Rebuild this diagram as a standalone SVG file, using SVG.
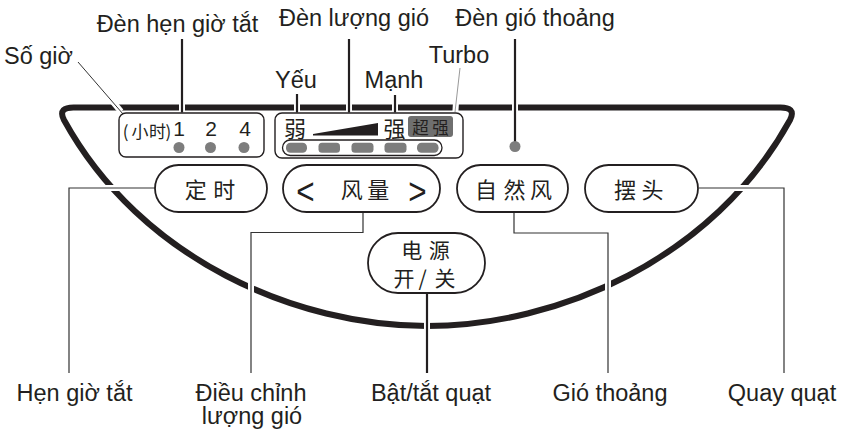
<svg xmlns="http://www.w3.org/2000/svg" width="847" height="431" viewBox="0 0 847 431">
<style>
.lbl{font-family:"Liberation Sans",Arial,sans-serif;font-size:23.5px;fill:#231f20;text-anchor:middle}
.num{font-family:"Liberation Sans",Arial,sans-serif;font-size:21px;fill:#231f20;text-anchor:middle}
.chev{font-family:"Liberation Sans",Arial,sans-serif;font-size:37px;fill:#231f20;text-anchor:middle}
.cjk{font-family:"Noto Sans CJK SC","Noto Sans CJK JP",sans-serif;fill:#231f20;text-anchor:middle;dominant-baseline:central}
.btn{fill:#fff;stroke:#231f20;stroke-width:1.8}
.box{fill:none;stroke:#231f20;stroke-width:1.4}
.dot{fill:#7d7d7d}
.thin{stroke:#333;stroke-width:1.2;fill:none}
.thick{stroke:#231f20;stroke-width:2.2;fill:none}
.halo{stroke:#fff;stroke-width:6;fill:none}
</style>
<rect width="847" height="431" fill="#fff"/>
<g id="panel">
<path d="M76,107.5 L778,107.5 Q797,106.5 790,120 C713,260 557,326 427,326 C297,326 141,260 64,120 Q57,106.5 76,107.5 Z" fill="none" stroke="#231f20" stroke-width="6" stroke-linejoin="round"/>
</g>
<g id="gaps">
<line class="halo" x1="182" y1="103" x2="182" y2="111.5"/>
<line class="halo" x1="297" y1="103" x2="297" y2="111.5"/>
<line class="halo" x1="349" y1="103" x2="349" y2="111.5"/>
<line class="halo" x1="395" y1="103" x2="395" y2="111.5"/>
<line class="halo" x1="515" y1="103" x2="515" y2="112"/>
<line class="halo" x1="456" y1="102" x2="455.4" y2="111.5" stroke-width="5"/>
<line class="halo" x1="113" y1="102" x2="121" y2="111.5" stroke-width="5"/>
<line class="halo" x1="105" y1="188" x2="120" y2="188"/>
<line class="halo" x1="734" y1="188" x2="749" y2="188"/>
<line class="halo" x1="251" y1="280" x2="251" y2="296"/>
<line class="halo" x1="427" y1="318" x2="427" y2="334"/>
<line class="halo" x1="608" y1="278" x2="608" y2="294"/>
</g>
<g id="connectors">
<polyline class="thin" points="155,188 69,188 69,373"/>
<polyline class="thin" points="363,213 363,232.5 251,232.5 251,373"/>
<line class="thick" x1="427" y1="294" x2="427" y2="373"/>
<polyline class="thin" points="514,213 514,233 608,233 608,373"/>
<polyline class="thin" points="699,188 784,188 784,373"/>
<line class="thick" x1="182" y1="39" x2="182" y2="112.5"/>
<line class="thick" x1="297" y1="94" x2="297" y2="112.5"/>
<line class="thick" x1="349" y1="39" x2="349" y2="112.5"/>
<line class="thick" x1="395" y1="95" x2="395" y2="112.5"/>
<line class="thick" x1="515" y1="39" x2="515" y2="142"/>
<line x1="78" y1="62" x2="123" y2="114" stroke="#333" stroke-width="1"/>
<line x1="460" y1="68" x2="455" y2="112" stroke="#999" stroke-width="1"/>
</g>
<g id="timer-indicator">
<rect class="box" x="119" y="113" width="145" height="44" rx="7"/>
<text class="cjk" x="125.5 140 157.5 168.3" y="130" font-size="17">(小时)</text>
<text class="num" x="179" y="135.5">1</text>
<text class="num" x="211" y="135.5">2</text>
<text class="num" x="245" y="135.5">4</text>
<circle class="dot" cx="179" cy="147.5" r="5.5"/>
<circle class="dot" cx="210.5" cy="147.5" r="5.5"/>
<circle class="dot" cx="244" cy="147.5" r="5.5"/>
</g>
<g id="wind-indicator">
<rect class="box" x="275" y="113" width="188" height="45" rx="7"/>
<text class="cjk" x="295" y="126.5" font-size="22">弱</text>
<polygon points="313,134 378,123 378,135.5 313,135.5" fill="#231f20"/>
<text class="cjk" x="394.5" y="126.5" font-size="22">强</text>
<rect x="408" y="116" width="45" height="21" rx="3" fill="#6f6f6f"/>
<text class="cjk" x="420.5 440.5" y="126.5" font-size="16.5" fill="#1a1a1a">超强</text>
<rect x="282.5" y="140" width="159.5" height="15.5" rx="7.75" fill="#fff" stroke="#231f20" stroke-width="1.3"/>
<rect class="dot" x="286" y="142.8" width="21" height="10" rx="4.5"/>
<rect class="dot" x="318.5" y="142.8" width="21.5" height="10" rx="3.5"/>
<rect class="dot" x="351.5" y="142.8" width="22" height="10" rx="3.5"/>
<rect class="dot" x="384.5" y="142.8" width="22" height="10" rx="3.5"/>
<rect class="dot" x="417" y="142.8" width="21.5" height="10" rx="4.5"/>
</g>
<g id="natural-indicator">
<circle class="dot" cx="515" cy="146.5" r="5.5"/>
</g>
<g id="btn-timer">
<rect class="btn" x="155" y="165" width="112" height="47" rx="23.5"/>
<text class="cjk" x="195.8 224.2" y="187.5" font-size="22">定时</text>
</g>
<g id="btn-wind">
<rect class="btn" x="283" y="165" width="157" height="47" rx="23.5"/>
<text class="chev" transform="translate(305.5,203.5) scale(0.85,1)" x="0" y="0">&lt;</text>
<text class="cjk" x="351.7 378.3" y="188" font-size="22">风量</text>
<text class="chev" transform="translate(417.5,203.5) scale(0.85,1)" x="0" y="0">&gt;</text>
</g>
<g id="btn-natural">
<rect class="btn" x="457" y="165" width="111" height="47" rx="23.5"/>
<text class="cjk" x="486 514.5 541" y="188" font-size="22">自然风</text>
</g>
<g id="btn-swing">
<rect class="btn" x="585" y="165" width="113" height="47" rx="23.5"/>
<text class="cjk" x="625 652.5" y="188" font-size="22">摆头</text>
</g>
<g id="btn-power">
<rect class="btn" x="368" y="233" width="117" height="60" rx="30" stroke-width="2.5"/>
<text class="cjk" x="411.7 439.2" y="249.2" font-size="21">电源</text>
<text class="cjk" x="404 422.5 445" y="276.7" font-size="21">开/关</text>
</g>
<g id="labels-top">
<text class="lbl" x="177.5" y="32">Đèn hẹn giờ tắt</text>
<text class="lbl" x="354" y="26">Đèn lượng gió</text>
<text class="lbl" x="535" y="26">Đèn gió thoảng</text>
<text class="lbl" x="38.5" y="63.5">Số giờ</text>
<text class="lbl" x="459" y="63.3">Turbo</text>
<text class="lbl" x="296" y="87.5">Yếu</text>
<text class="lbl" x="394" y="87.5">Mạnh</text>
</g>
<g id="labels-bottom">
<text class="lbl" x="74.5" y="400.5">Hẹn giờ tắt</text>
<text class="lbl" x="251" y="400.5">Điều chỉnh</text>
<text class="lbl" x="252" y="424">lượng gió</text>
<text class="lbl" x="431" y="400.5">Bật/tắt quạt</text>
<text class="lbl" x="610" y="400.5">Gió thoảng</text>
<text class="lbl" x="782" y="400.5">Quay quạt</text>
</g>
</svg>
